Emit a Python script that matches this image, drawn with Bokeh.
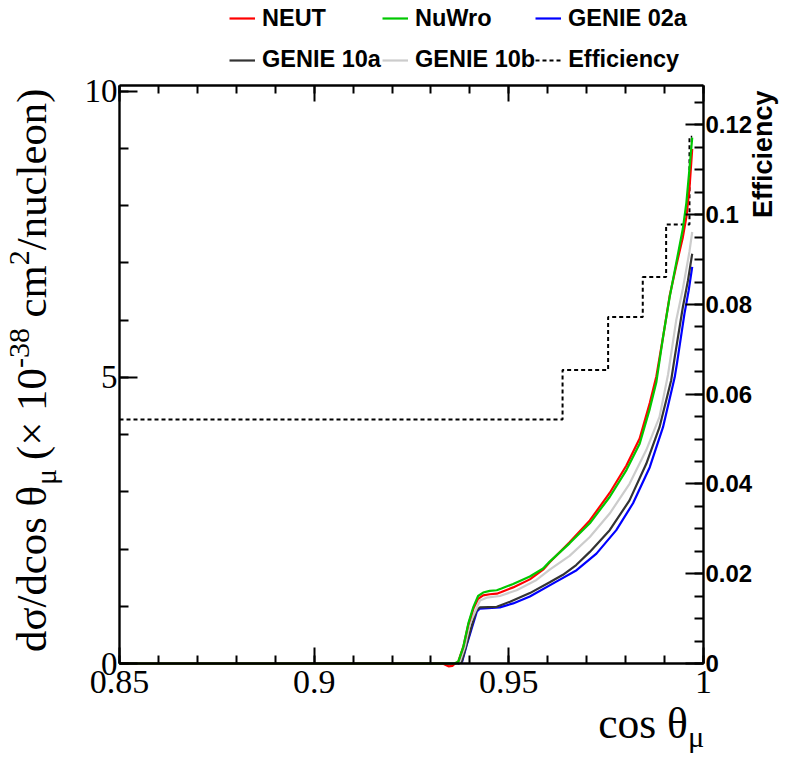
import math
from bokeh.plotting import figure
from bokeh.models import (Range1d, LinearAxis, FixedTicker, CustomJSTickFormatter,
                          Label, Legend, LegendItem)
from bokeh.embed import file_html
from bokeh.resources import INLINE

# ---------------- data ----------------
neut_x = [0.85, 0.9330, 0.9345, 0.9355, 0.9362, 0.9370, 0.9383, 0.9396, 0.9409, 0.9421,
          0.9434, 0.9451, 0.9469, 0.9481, 0.9511, 0.9554, 0.9588, 0.9605, 0.9656, 0.9708,
          0.9759, 0.9802, 0.9836, 0.9862, 0.9879, 0.9896, 0.9913, 0.9930, 0.9947, 0.9956,
          0.9964, 0.9971]
neut_y = [0, 0, -0.05, -0.04, 0, 0.03, 0.29, 0.68, 0.96, 1.13,
          1.19, 1.21, 1.22, 1.25, 1.33, 1.47, 1.64, 1.77, 2.12, 2.50,
          2.98, 3.46, 3.93, 4.55, 5.02, 5.70, 6.42, 6.95, 7.45, 7.80,
          8.30, 8.99]

nuwro_x = [0.85, 0.9360, 0.9370, 0.9383, 0.9396, 0.9409, 0.9421, 0.9434, 0.9451, 0.9469,
           0.9481, 0.9511, 0.9554, 0.9588, 0.9605, 0.9656, 0.9708, 0.9759, 0.9802, 0.9836,
           0.9862, 0.9879, 0.9896, 0.9913, 0.9930, 0.9947, 0.9956, 0.9964, 0.9971]
nuwro_y = [0, 0, 0.03, 0.29, 0.70, 0.99, 1.18, 1.24, 1.27, 1.28,
           1.31, 1.39, 1.52, 1.66, 1.78, 2.10, 2.45, 2.91, 3.38, 3.84,
           4.45, 4.92, 5.70, 6.40, 7.00, 7.60, 8.05, 8.65, 9.19]

genie02a_x = [0.85, 0.9371, 0.9380, 0.9392, 0.9405, 0.9418, 0.9426, 0.9477, 0.9511, 0.9554,
              0.9622, 0.9674, 0.9725, 0.9776, 0.9819, 0.9862, 0.9896, 0.9926, 0.9932, 0.9951,
              0.9962, 0.9971]
genie02a_y = [0, 0, 0.03, 0.33, 0.62, 0.91, 0.96, 0.98, 1.05, 1.17,
              1.43, 1.63, 1.92, 2.33, 2.80, 3.43, 4.13, 5.00, 5.25, 6.11,
              6.52, 6.93]

genie10a_x = [0.85, 0.9370, 0.9379, 0.9392, 0.9404, 0.9417, 0.9426, 0.9469, 0.9503, 0.9554,
              0.9605, 0.9639, 0.9673, 0.9708, 0.9759, 0.9810, 0.9853, 0.9887, 0.9917,
              0.9926, 0.9947, 0.9960, 0.9971]
genie10a_y = [0, 0, 0.03, 0.35, 0.64, 0.93, 0.98, 0.99, 1.08, 1.23,
              1.42, 1.55, 1.72, 1.95, 2.33, 2.85, 3.49, 4.13, 4.95,
              5.35, 6.23, 6.69, 7.16]

genie10b_x = [0.85, 0.9367, 0.9374, 0.9387, 0.9400, 0.9413, 0.9426, 0.9443, 0.9477, 0.9520,
              0.9571, 0.9605, 0.9656, 0.9708, 0.9759, 0.9810, 0.9853, 0.9887, 0.9909, 0.9930,
              0.9947, 0.9964, 0.9971]
genie10b_y = [0, 0, 0.03, 0.29, 0.70, 0.90, 1.10, 1.15, 1.18, 1.28,
              1.46, 1.64, 1.88, 2.21, 2.62, 3.14, 3.73, 4.31, 5.05, 6.00,
              6.55, 7.20, 7.54]

eff_edges = [0.85, 0.9638, 0.9755, 0.9844, 0.9904, 0.9964, 0.9971]
eff_vals = [0.0544, 0.0654, 0.0772, 0.0861, 0.0978, 0.1174]

x_ticks = [0.85, 0.9, 0.95, 1.0]
y_ticks = [0, 5, 10]
eff_ticks = [0, 0.02, 0.04, 0.06, 0.08, 0.1, 0.12]

series_names = ["NEUT", "NuWro", "GENIE 02a", "GENIE 10a", "GENIE 10b", "Efficiency"]

# ---------------- geometry ----------------
CW, CH = 790, 763              # canvas (whole frame)
L, R, T, B = 119, 87, 85, 100  # plot box margins inside the canvas
PW, PH = CW - L - R, CH - T - B
X0, X1 = 0.85, 1.0
Y0, Y1 = 0.0, 10.1
E0, E1 = 0.0, 0.1288

def ext(a, b, lo, hi, n):
    s = (b - a) / n
    return Range1d(a - lo * s, b + hi * s)

p = figure(frame_width=CW, frame_height=CH,
           x_range=ext(X0, X1, L, R, PW), y_range=ext(Y0, Y1, B, T, PH),
           output_backend="svg", toolbar_location=None,
           min_border=0, background_fill_color="white", border_fill_color="white")
p.grid.visible = False
p.outline_line_color = None
p.extra_y_ranges = {"eff": ext(E0, E1, B, T, PH)}

fmt = CustomJSTickFormatter(code="return String(parseFloat(tick.toFixed(4)))")
blank = CustomJSTickFormatter(code="return ''")

x_minor = [round(0.85 + 0.01 * i, 2) for i in range(16)]
y_minor = list(range(0, 11))
eff_minor = [round(0.005 * i, 3) for i in range(26)]

def style_axis(ax, tin, tmin):
    ax.axis_line_width = 2.4
    ax.axis_line_color = "black"
    ax.major_tick_line_color = "black"
    ax.minor_tick_line_color = "black"
    ax.major_tick_line_width = 2
    ax.minor_tick_line_width = 2
    ax.major_tick_in = tin
    ax.major_tick_out = 0
    ax.minor_tick_in = tmin
    ax.minor_tick_out = 0
    ax.major_label_text_color = "black"

xa = p.xaxis[0]
xa.ticker = FixedTicker(ticks=x_ticks, minor_ticks=x_minor)
xa.formatter = fmt
xa.fixed_location = Y0
xa.bounds = (X0, X1)
style_axis(xa, 16, 8)
xa.major_label_text_font = "Liberation Serif"
xa.major_label_text_font_size = "34px"
xa.major_label_standoff = 7

ya = p.yaxis[0]
ya.ticker = FixedTicker(ticks=y_ticks, minor_ticks=y_minor)
ya.formatter = fmt
ya.fixed_location = X0
ya.bounds = (Y0, Y1)
style_axis(ya, 18, 9)
ya.major_label_text_font = "Liberation Serif"
ya.major_label_text_font_size = "33px"
ya.major_label_standoff = 2

top = LinearAxis(ticker=FixedTicker(ticks=x_ticks, minor_ticks=x_minor), formatter=blank,
                 fixed_location=Y1, bounds=(X0, X1))
style_axis(top, 16, 8)
top.major_label_text_font_size = "1px"
p.add_layout(top, "above")

ra = LinearAxis(y_range_name="eff", ticker=FixedTicker(ticks=eff_ticks, minor_ticks=eff_minor),
                formatter=fmt, fixed_location=X1, bounds=(E0, E1))
style_axis(ra, 18, 9)
ra.major_label_text_font = "Liberation Sans"
ra.major_label_text_font_style = "bold"
ra.major_label_text_font_size = "24px"
ra.major_label_standoff = 2
p.add_layout(ra, "right")

# ---------------- glyphs ----------------
LW = 2.2
r_eff = p.step(eff_edges, eff_vals + [eff_vals[-1]], mode="after", y_range_name="eff",
               line_color="black", line_width=2, line_dash="4 3")
r_02a = p.line(genie02a_x, genie02a_y, line_color="#0000ff", line_width=LW)
r_10a = p.line(genie10a_x, genie10a_y, line_color="#333333", line_width=LW)
r_10b = p.line(genie10b_x, genie10b_y, line_color="#cccccc", line_width=LW)
r_neut = p.line(neut_x, neut_y, line_color="#ff0000", line_width=LW)
r_nuwro = p.line(nuwro_x, nuwro_y, line_color="#00c800", line_width=LW)

# ---------------- legends ----------------
def make_legend(items, y):
    lg = Legend(items=items, location=(229, y), orientation="horizontal",
                glyph_width=26, glyph_height=28, label_height=28, label_width=120,
                label_standoff=7, spacing=0, padding=0, margin=0,
                border_line_alpha=0, background_fill_alpha=0,
                label_text_font="Liberation Sans", label_text_font_style="bold",
                label_text_font_size="23.5px", label_text_color="black")
    p.add_layout(lg)

make_legend([LegendItem(label=series_names[0], renderers=[r_neut]),
             LegendItem(label=series_names[1], renderers=[r_nuwro]),
             LegendItem(label=series_names[2], renderers=[r_02a])], CH - 32)
make_legend([LegendItem(label=series_names[3], renderers=[r_10a]),
             LegendItem(label=series_names[4], renderers=[r_10b]),
             LegendItem(label=series_names[5], renderers=[r_eff])], CH - 73.5)

# ---------------- titles (composed text runs) ----------------
SERIF = "Liberation Serif"
F = 42.8
COMP = 0.4   # observed baseline offset of rendered labels, in em

def lab(text, x, y, size, rotated=False, align="left", font=SERIF, style="normal"):
    if rotated:
        x = x - COMP * size
    else:
        y = y + COMP * size
    p.add_layout(Label(x=x, y=y, x_units="screen", y_units="screen", text=text,
                       angle=(math.pi / 2 if rotated else 0.0),
                       text_align=align, text_baseline="alphabetic",
                       text_font=font, text_font_style=style,
                       text_font_size=f"{size:.1f}px", text_color="black"))

# x title: "cos θ_μ", right aligned at plot right edge
FX = 43.5
mu_w = 0.48 * 0.7 * FX
x_end = L + PW - 1
x_base = CH - 740
lab("cos θ", x_end - mu_w, x_base, FX, align="right")
lab("μ", x_end - mu_w, x_base - 0.2 * FX, 0.7 * FX)

# y title (rotated), ends near top of the plot box
# (text, size factor, baseline shift in em, advance in em, gap after in em)
parts = [("dσ/dcos θ", 1.0, 0.0, 3.90, 0.0),
         ("μ", 0.7, -0.2, 0.48, 0.25),
         ("(× 10", 1.0, 0.0, 2.147, 0.0),
         ("-38", 0.7, 0.4, 1.333, 0.25),
         ("cm", 1.0, 0.0, 1.222, 0.0),
         ("2", 0.7, 0.4, 0.5, 0.0),
         ("/nucleon)", 1.0, 0.0, 3.777, 0.0)]
total = sum(F * (s * w + g) for _, s, _, w, g in parts)
y_cur = B + PH - 3 - total
yb = 48
for text, s, shift, w, g in parts:
    lab(text, yb - shift * F, y_cur, s * F, rotated=True)
    y_cur += F * (s * w + g)

# right axis title
lab("Efficiency", 773, CH - 90, 27, rotated=True, align="right",
    font="Liberation Sans", style="bold")

open("out.html", "w").write(file_html(p, INLINE))
